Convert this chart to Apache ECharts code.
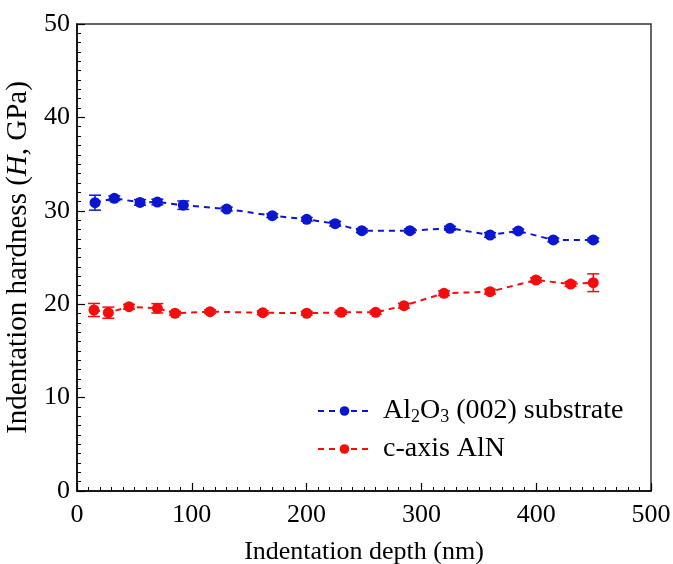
<!DOCTYPE html>
<html>
<head>
<meta charset="utf-8">
<script src="https://cdn.jsdelivr.net/npm/echarts@6/dist/echarts.min.js"></script>
<style>
  html, body { margin: 0; padding: 0; background: #fff; }
  #main { width: 673px; height: 564px; }
</style>
</head>
<body>
<div id="main"></div>
<script>
; (function () {

    // Al2O3 (002) substrate
    var depthA = [15.7, 32.5, 54.9, 70, 92.6, 130.4, 170.1, 200.1, 224.9, 248.1, 290, 324.9, 359.8, 384.4, 414.9, 449.7];
    var hardA  = [30.87, 31.34, 30.9, 30.94, 30.6, 30.19, 29.48, 29.09, 28.62, 27.87, 27.87, 28.13, 27.41, 27.84, 26.88, 26.88];
    var errA   = [0.8, 0.25, 0.3, 0.3, 0.45, 0.2, 0.2, 0.2, 0.25, 0.2, 0.2, 0.2, 0.25, 0.2, 0.2, 0.2];

    // c-axis AlN
    var depthB = [14.8, 27.3, 45.3, 70, 85.4, 115.9, 161.8, 200.1, 230.1, 260.2, 284.8, 319.7, 359.8, 399.8, 430, 449.7];
    var hardB  = [19.38, 19.09, 19.73, 19.56, 19.03, 19.2, 19.09, 19.03, 19.13, 19.13, 19.84, 21.17, 21.34, 22.59, 22.16, 22.3];
    var errB   = [0.7, 0.6, 0.25, 0.5, 0.2, 0.2, 0.2, 0.2, 0.2, 0.2, 0.25, 0.25, 0.25, 0.25, 0.25, 0.95];

    var blue = '#0b17cf';
    var red = '#f50d0d';
    var font = '"Liberation Serif", "Times New Roman", serif';

    function pairs(xs, ys) {
        return xs.map(function (x, i) { return [x, ys[i]]; });
    }
    function bars(xs, ys, es) {
        return xs.map(function (x, i) { return [x, ys[i] - es[i], ys[i] + es[i]]; });
    }
    function errorBar(color) {
        return function (params, api) {
            var x = api.value(0);
            var lo = api.coord([x, api.value(1)]);
            var hi = api.coord([x, api.value(2)]);
            var w = 6;
            var st = { stroke: color, lineWidth: 1.5 };
            return {
                type: 'group',
                children: [
                    { type: 'line', shape: { x1: hi[0], y1: hi[1], x2: lo[0], y2: lo[1] }, style: st },
                    { type: 'line', shape: { x1: hi[0] - w, y1: hi[1], x2: hi[0] + w, y2: hi[1] }, style: st },
                    { type: 'line', shape: { x1: lo[0] - w, y1: lo[1], x2: lo[0] + w, y2: lo[1] }, style: st }
                ]
            };
        };
    }

    var myChart = echarts.init(document.getElementById('main'));
    var option = {
        backgroundColor: '#fff',
        animation: false,
        grid: {
            left: 77,
            right: 22,
            top: 24,
            bottom: 73,
            outerBoundsMode: 'none',
            show: true,
            borderColor: '#333',
            borderWidth: 1.5
        },
        legend: {
            orient: 'vertical',
            left: 312,
            top: 391,
            itemWidth: 53,
            itemHeight: 12,
            itemGap: 9,
            data: ['Al2O3', 'AlN'],
            formatter: function (name) {
                if (name === 'Al2O3') {
                    return '{f|Al}{s|2}{n|O}{s|3}{n| (002) substrate}';
                }
                return '{f|c-axis AlN}';
            },
            textStyle: {
                fontFamily: font,
                color: '#000',
                rich: {
                    f: { fontSize: 28, fontFamily: font, color: '#000', lineHeight: 30, padding: [0, 0, 0, 7] },
                    n: { fontSize: 28, fontFamily: font, color: '#000', lineHeight: 30 },
                    s: { fontSize: 18, fontFamily: font, color: '#000', lineHeight: 30, padding: [12, 0, 0, 0] }
                }
            }
        },
        xAxis: {
            type: 'value',
            min: 0,
            max: 500,
            interval: 100,
            name: 'Indentation depth (nm)',
            nameLocation: 'middle',
            nameGap: 48,
            nameTextStyle: { fontFamily: font, fontSize: 26, color: '#000' },
            axisLine: { lineStyle: { color: '#000', width: 1.5 } },
            axisTick: { inside: true, length: 8, lineStyle: { color: '#000', width: 1.2 } },
            minorTick: { show: true, splitNumber: 10, length: 4, lineStyle: { color: '#000', width: 1 } },
            axisLabel: { fontFamily: font, fontSize: 26, color: '#000', margin: 11 },
            splitLine: { show: false }
        },
        yAxis: {
            type: 'value',
            min: 0,
            max: 50,
            interval: 10,
            name: '{n|Indentation hardness (}{i|H}{n|, GPa)}',
            nameLocation: 'middle',
            nameGap: 42,
            nameTextStyle: {
                fontFamily: font,
                fontSize: 29,
                color: '#000',
                rich: {
                    n: { fontFamily: font, fontSize: 29, color: '#000' },
                    i: { fontFamily: font, fontSize: 29, color: '#000', fontStyle: 'italic' }
                }
            },
            axisLine: { lineStyle: { color: '#000', width: 1.5 } },
            axisTick: { inside: true, length: 8, lineStyle: { color: '#000', width: 1.2 } },
            minorTick: { show: true, splitNumber: 10, length: 4, lineStyle: { color: '#000', width: 1 } },
            axisLabel: { fontFamily: font, fontSize: 26, color: '#000', margin: 7 },
            splitLine: { show: false }
        },
        series: [
            {
                name: 'Al2O3',
                type: 'line',
                data: pairs(depthA, hardA),
                symbol: 'circle',
                symbolSize: 11,
                itemStyle: { color: blue },
                lineStyle: { color: blue, width: 2, type: [6, 5] },
                z: 3
            },
            {
                name: 'AlN',
                type: 'line',
                data: pairs(depthB, hardB),
                symbol: 'circle',
                symbolSize: 11,
                itemStyle: { color: red },
                lineStyle: { color: red, width: 2, type: [6, 5] },
                z: 3
            },
            {
                name: 'errA',
                type: 'custom',
                renderItem: errorBar(blue),
                data: bars(depthA, hardA, errA),
                encode: { x: 0, y: [1, 2] },
                z: 4
            },
            {
                name: 'errB',
                type: 'custom',
                renderItem: errorBar(red),
                data: bars(depthB, hardB, errB),
                encode: { x: 0, y: [1, 2] },
                z: 4
            }
        ]
    };

    myChart.setOption(option);
})();
</script>
</body>
</html>
